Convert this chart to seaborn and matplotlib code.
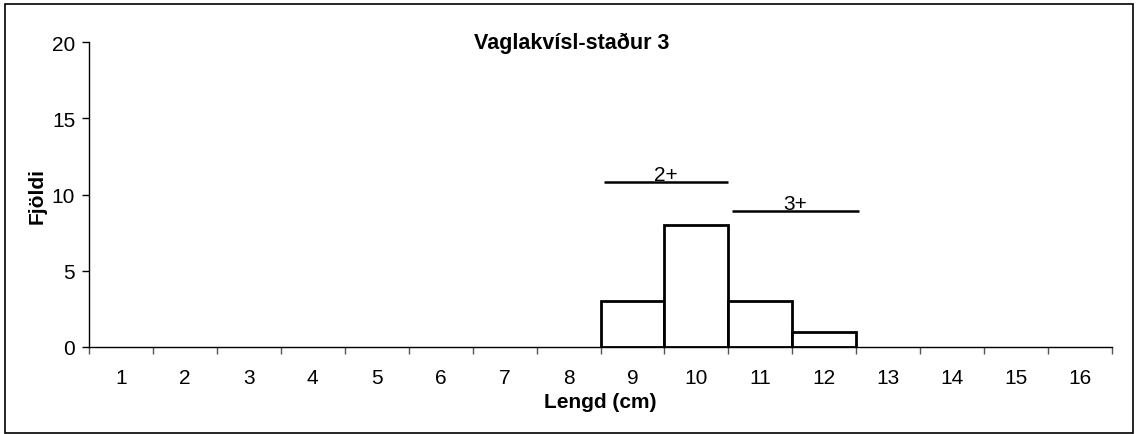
import matplotlib
matplotlib.use("Agg")
import matplotlib.pyplot as plt
from matplotlib.patches import Rectangle
import seaborn as sns
import pandas as pd
import numpy as np

# Data
lengths = list(range(1, 17))
counts = [0, 0, 0, 0, 0, 0, 0, 0, 3, 8, 3, 1, 0, 0, 0, 0]
# age-group bars: (label, start length, end length, height)
age_labels = ["2+", "3+"]
age_starts = [8.55, 10.55]
age_ends = [10.5, 12.55]
age_heights = [10.8, 8.9]

sns.set_style("white")
plt.rcParams['font.family'] = ['Liberation Sans', 'DejaVu Sans']
plt.rcParams['text.color'] = 'black'
plt.rcParams['axes.labelcolor'] = 'black'
plt.rcParams['xtick.color'] = 'black'
plt.rcParams['ytick.color'] = 'black'

df = pd.DataFrame({'Lengd': [str(v) for v in lengths], 'Fjoldi': counts})

fig = plt.figure(figsize=(11.37, 4.35), dpi=100)
ax = fig.add_axes([0.0783, 0.2, 0.8997, 0.701])

sns.barplot(data=df, x='Lengd', y='Fjoldi', order=df['Lengd'], color='white',
            edgecolor='black', linewidth=2, width=1, ax=ax)

# bars with zero height should not draw an outline
for p, c in zip(ax.patches, counts):
    if c == 0:
        p.set_visible(False)

ax.set_xlim(-0.5, len(lengths) - 0.5)
ax.set_ylim(0, 20)
ax.set_yticks([0, 5, 10, 15, 20])

# category boundaries as tick marks, labels centered
ax.set_xticks(np.arange(len(lengths)))
ax.set_xticklabels([str(v) for v in lengths])
ax.set_xticks(np.arange(len(lengths) + 1) - 0.5, minor=True)
ax.tick_params(axis='x', which='major', length=0, pad=15, labelsize=15)
ax.tick_params(axis='x', which='minor', bottom=True, length=5, width=1,
               color='#555555', direction='out')
ax.tick_params(axis='y', length=5, width=1, direction='out', labelsize=15, pad=5, left=True)

for s in ['top', 'right']:
    ax.spines[s].set_visible(False)
for s in ['left', 'bottom']:
    ax.spines[s].set_color('black')
    ax.spines[s].set_linewidth(1)

ax.set_xlabel('Lengd (cm)', fontsize=15, fontweight='bold', labelpad=4)
ax.set_ylabel('Fjöldi', fontsize=15, fontweight='bold', labelpad=4)
ax.text(0.472, 1.0, 'Vaglakvísl-staður 3', transform=ax.transAxes, ha='center',
        va='center', fontsize=15.5, fontweight='bold')

# age-group markers (positions are in category units, 1-based lengths)
for lab, x0, x1, h in zip(age_labels, age_starts, age_ends, age_heights):
    ax.plot([x0 - 1, x1 - 1], [h, h], color='black', lw=1.8, solid_capstyle='butt')
    ax.text((x0 + x1) / 2 - 1, h - 0.1, lab, ha='center', va='bottom', fontsize=15)

# outer chart border
fig.patches.append(Rectangle((0.0044, 0.0023), 0.9925, 0.986, transform=fig.transFigure,
                             fill=False, edgecolor='black', linewidth=1.2))

fig.savefig('out.png', dpi=100)
